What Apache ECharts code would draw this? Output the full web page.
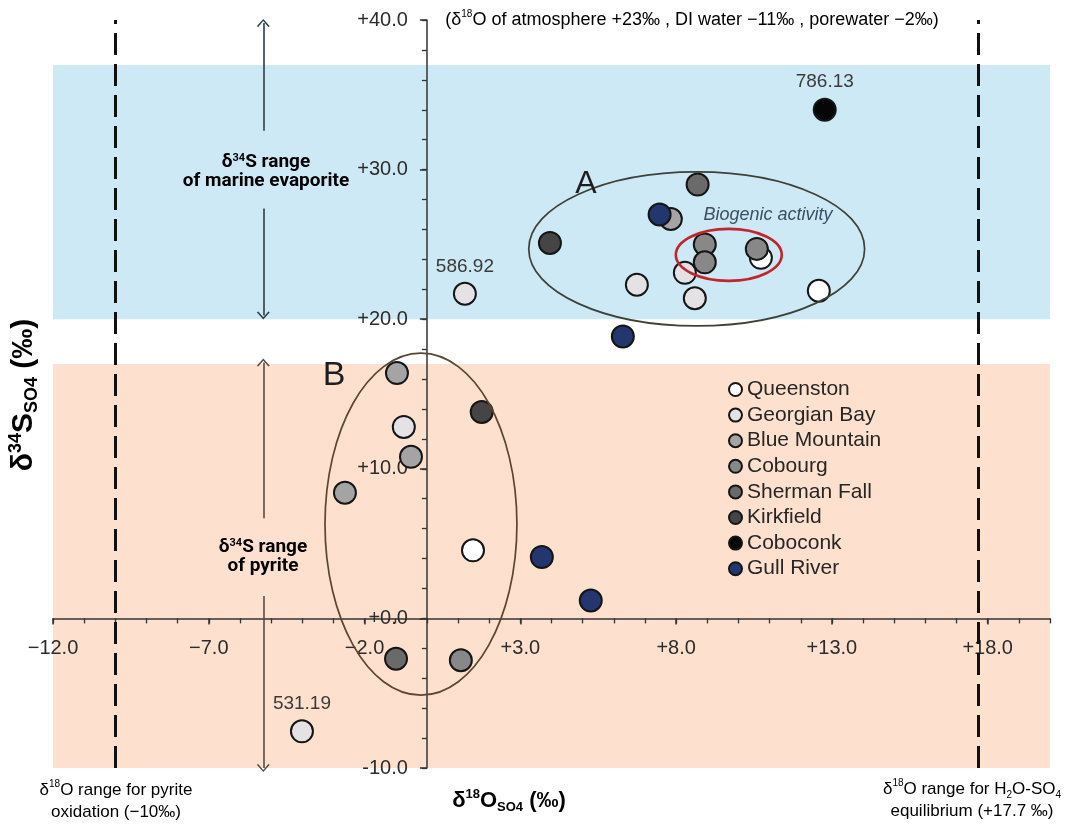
<!DOCTYPE html>
<html>
<head>
<meta charset="utf-8">
<script src="https://cdn.jsdelivr.net/npm/echarts@6/dist/echarts.min.js"></script>
<style>
  html, body { margin: 0; padding: 0; background: #fff; }
  #chart { width: 1068px; height: 825px; }
</style>
</head>
<body>
<div id="chart"></div>
<script>
// δ18O vs δ34S of dissolved sulfate, grouped by formation.
// Each point: [δ18O_SO4, δ34S_SO4] or [δ18O_SO4, δ34S_SO4, sample tag]
const queenston    = [[1.48, 4.55], [10.72, 24.1], [12.58, 21.9]];
const georgianBay  = [[1.22, 21.7, '586.92'], [-0.74, 12.8], [-4.01, -7.55, '531.19'], [8.28, 23.1], [6.74, 22.3], [8.6, 21.4]];
const blueMountain = [[-0.96, 16.4], [-0.51, 10.8], [-2.63, 8.4], [7.83, 26.7]];
const cobourg      = [[8.92, 25.0], [8.92, 23.8], [10.59, 24.7], [1.09, -2.8]];
const shermanFall  = [[8.69, 29.0], [-0.99, -2.7]];
const kirkfield    = [[3.95, 25.1], [1.76, 13.8]];
const coboconk     = [[12.77, 34.0, '786.13']];
const gullRiver    = [[7.47, 27.0], [6.29, 18.85], [3.69, 4.1], [5.26, 1.2]];

const formationNames = ['Queenston', 'Georgian Bay', 'Blue Mountain', 'Cobourg', 'Sherman Fall', 'Kirkfield', 'Coboconk', 'Gull River'];

// axis ticks
const xTicks = [-12, -7, -2, 3, 8, 13, 18];
const yTicks = [-10, 0, 10, 20, 30, 40];

// δ34S reference ranges
const evaporiteRange = [20, 37];
const pyriteRange = [-10, 17];
// δ18O reference values
const pyriteOxidationO = -10;
const equilibriumO = 17.7;

// grouping ellipses: [centre δ18O, centre δ34S, half-width, half-height]
const groupA = [8.66, 24.7, 5.39, 5.15];
const groupB = [-0.19, 6.3, 3.08, 11.43];
const biogenicZone = [9.69, 24.3, 1.70, 1.74];

// range arrows: [δ18O, start δ34S, end δ34S]
const evaporiteArrowTop = [-5.25, 39.8, 32.6];
const evaporiteArrowBottom = [-5.25, 27.4, 20.25];
const pyriteArrowTop = [-5.25, 17.1, 6.7];
const pyriteArrowBottom = [-5.25, 1.5, -10];

const chart = echarts.init(document.getElementById('chart'), null, { renderer: 'canvas' });

const FONT = "'Liberation Sans', Arial, sans-serif";
const AXIS_COLOR = '#333';
const chevron = 'path://M0,9 L6,0 L12,9 L10.7,9.9 L6,2.6 L1.3,9.9 Z';
const GRID = { left: 53, right: 18, top: 20, bottom: 57 };

const fills = ['#ffffff', '#e4e2e5', '#a4a4a4', '#888888', '#6a6a6a', '#454545', '#060606', '#23366e'];
const groups = [queenston, georgianBay, blueMountain, cobourg, shermanFall, kirkfield, coboconk, gullRiver];

function toItems(arr) {
  return arr.map(d => d[2]
    ? { value: [d[0], d[1]], label: { show: true, formatter: d[2] } }
    : [d[0], d[1]]);
}

const scatterSeries = groups.map((g, i) => ({
  name: formationNames[i],
  type: 'scatter',
  z: 3,
  symbol: 'circle',
  symbolSize: 22,
  data: toItems(g),
  itemStyle: { color: fills[i], borderColor: '#151515', borderWidth: 2, opacity: 1 },
  label: { show: false, position: 'top', distance: 6, fontSize: 19, color: '#3a3a3a', fontFamily: FONT },
  emphasis: { disabled: true }
}));

function arrowSeg(seg, color, startHead) {
  return [
    { coord: [seg[0], seg[1]], symbol: startHead ? chevron : 'none', lineStyle: { color, width: 1.6, type: 'solid' } },
    { coord: [seg[0], seg[2]], symbol: startHead ? 'none' : chevron }
  ];
}

const dashed = { type: [22, 9], width: 3, color: '#111' };

const helperSeries = {
  name: 'ranges',
  type: 'scatter',
  data: [],
  silent: true,
  markArea: {
    silent: true,
    z: 1,
    data: [
      [{ yAxis: evaporiteRange[1], itemStyle: { color: '#cde9f6' } }, { yAxis: evaporiteRange[0] }],
      [{ yAxis: pyriteRange[1], itemStyle: { color: '#fde1ce' } }, { yAxis: pyriteRange[0] }]
    ]
  },
  markLine: {
    silent: true,
    z: 3,
    symbol: 'none',
    symbolSize: [13, 8],
    label: { show: false },
    emphasis: { disabled: true },
    data: [
      { xAxis: pyriteOxidationO, lineStyle: dashed },
      { xAxis: equilibriumO, lineStyle: dashed },
      arrowSeg(evaporiteArrowTop, '#2e3d46', true),
      arrowSeg(evaporiteArrowBottom, '#2e3d46', false),
      arrowSeg(pyriteArrowTop, '#5b4c44', true),
      arrowSeg(pyriteArrowBottom, '#5b4c44', false)
    ]
  }
};

const ellipseStroke = ['#3e4136', '#5a4631', '#c3252d'];
const ellipseWidth = [1.7, 1.7, 2.6];
const ellipseSeries = {
  name: 'groups',
  type: 'custom',
  coordinateSystem: 'cartesian2d',
  z: 5,
  silent: true,
  clip: false,
  data: [groupA, groupB, biogenicZone],
  renderItem(params, api) {
    const c = api.coord([api.value(0), api.value(1)]);
    const s = api.size([api.value(2), api.value(3)]);
    return {
      type: 'ellipse',
      shape: { cx: c[0], cy: c[1], rx: s[0], ry: s[1] },
      style: { fill: 'none', stroke: ellipseStroke[params.dataIndex], lineWidth: ellipseWidth[params.dataIndex] }
    };
  }
};

const signed = (v, minus) => (v < 0 ? minus : '+') + Math.abs(v).toFixed(1);

const richNote = (size) => ({
  n: { fontFamily: FONT, fontSize: size, color: '#222', lineHeight: 22, verticalAlign: 'middle' },
  s: { fontFamily: FONT, fontSize: 10, color: '#222', lineHeight: 10, verticalAlign: 'top' },
  b: { fontFamily: FONT, fontSize: 10, color: '#222', lineHeight: 10, verticalAlign: 'bottom' }
});
const richBold = (color) => ({
  n: { fontFamily: "Roboto, 'Liberation Sans', sans-serif", fontWeight: 'bold', fontSize: 19, color, lineHeight: 19 },
  s: { fontFamily: "Roboto, 'Liberation Sans', sans-serif", fontWeight: 'bold', fontSize: 11, color, lineHeight: 11, verticalAlign: 'top' }
});
const richAxisName = (size, small) => ({
  n: { fontFamily: FONT, fontWeight: 'bold', fontSize: size, color: '#222', lineHeight: size + 4, verticalAlign: 'middle' },
  s: { fontFamily: FONT, fontWeight: 'bold', fontSize: small, color: '#222', lineHeight: small, verticalAlign: 'top' },
  b: { fontFamily: FONT, fontWeight: 'bold', fontSize: small, color: '#222', lineHeight: small, verticalAlign: 'bottom' }
});

const option = {
  backgroundColor: '#ffffff',
  animation: false,
  grid: Object.assign({ containLabel: false, outerBoundsMode: 'none' }, GRID),
  xAxis: [
    {
      type: 'value', min: -12, max: 20, position: 'bottom', z: 2,
      axisLine: { show: true, onZero: false, lineStyle: { color: AXIS_COLOR, width: 1.5 } },
      axisTick: { show: true, customValues: xTicks, length: 6, lineStyle: { color: AXIS_COLOR, width: 1.5 } },
      axisLabel: { customValues: xTicks, formatter: v => signed(v, '−'), fontSize: 20, color: '#2c2c2c', fontFamily: FONT, margin: 20 },
      splitLine: { show: false }
    },
    {
      // unit ticks on the upper side of the δ18O axis
      type: 'value', min: -12, max: 20, interval: 1, position: 'top', z: 2,
      axisLine: { show: false, onZero: false },
      axisTick: { show: true, inside: true, length: 5, lineStyle: { color: AXIS_COLOR, width: 1.3 } },
      axisLabel: { show: false },
      splitLine: { show: false }
    }
  ],
  yAxis: [
    {
      type: 'value', min: -10, max: 40, interval: 10, position: 'left', z: 2,
      axisLine: { show: true, onZero: false, lineStyle: { color: AXIS_COLOR, width: 1.5 } },
      axisTick: { show: true, customValues: yTicks, length: 7, lineStyle: { color: AXIS_COLOR, width: 1.5 } },
      axisLabel: { customValues: yTicks, formatter: v => signed(v, '-'), fontSize: 20, color: '#2c2c2c', fontFamily: FONT, margin: 19 },
      splitLine: { show: false }
    },
    {
      // 2‰ ticks on the right side of the δ34S axis
      type: 'value', min: -10, max: 40, interval: 2, position: 'right', z: 2,
      axisLine: { show: false, onZero: false },
      axisTick: { show: true, inside: true, length: 5, lineStyle: { color: AXIS_COLOR, width: 1.3 } },
      axisLabel: { show: false },
      splitLine: { show: false }
    }
  ],
  legend: {
    data: formationNames,
    orient: 'vertical',
    left: 723,
    top: 374,
    icon: 'circle',
    itemWidth: 13,
    itemHeight: 13,
    itemGap: 4.6,
    selectedMode: false,
    textStyle: { fontSize: 21, lineHeight: 21, color: '#262626', fontFamily: FONT }
  },
  graphic: [
    { type: 'text', x: 692, y: 20, z: 10, silent: true,
      style: { text: '{n|(δ}{s|18}{n|O of atmosphere +23‰ , DI water −11‰ , porewater −2‰)}', rich: richNote(18), align: 'center', verticalAlign: 'middle' } },
    { type: 'text', x: 116, y: 801, z: 10, silent: true,
      style: { text: '{n|δ}{s|18}{n|O range for pyrite}\n{n|oxidation (−10‰)}', rich: richNote(17), align: 'center', verticalAlign: 'middle' } },
    { type: 'text', x: 972, y: 800, z: 10, silent: true,
      style: { text: '{n|δ}{s|18}{n|O range for H}{b|2}{n|O-SO}{b|4}\n{n|equilibrium (+17.7 ‰)}', rich: richNote(17), align: 'center', verticalAlign: 'middle' } },
    { type: 'text', x: 266, y: 172, z: 10, silent: true,
      style: { text: '{n|δ}{s|34}{n|S range}\n{n|of marine evaporite}', rich: richBold('#2c3a42'), align: 'center', verticalAlign: 'middle' } },
    { type: 'text', x: 263, y: 557, z: 10, silent: true,
      style: { text: '{n|δ}{s|34}{n|S range}\n{n|of pyrite}', rich: richBold('#3b2f28'), align: 'center', verticalAlign: 'middle' } },
    { type: 'text', x: 586, y: 184, z: 10, silent: true,
      style: { text: 'A', font: "32px 'Liberation Sans', Arial, sans-serif", fill: '#1e1e1e', align: 'center', verticalAlign: 'middle' } },
    { type: 'text', x: 334, y: 376, z: 10, silent: true,
      style: { text: 'B', font: "34px 'Liberation Sans', Arial, sans-serif", fill: '#1e1e1e', align: 'center', verticalAlign: 'middle' } },
    { type: 'text', x: 768, y: 215, z: 10, silent: true,
      style: { text: 'Biogenic activity', font: "italic 18px 'Liberation Sans', Arial, sans-serif", fill: '#3d4e64', align: 'center', verticalAlign: 'middle' } },
    { type: 'text', x: 509, y: 801, z: 10, silent: true,
      style: { text: '{n|δ}{s|18}{n|O}{b|SO4}{n| (‰)}', rich: richAxisName(22, 13), align: 'center', verticalAlign: 'middle' } },
    { type: 'text', x: 24, y: 395, z: 10, rotation: Math.PI / 2, silent: true,
      style: { text: '{n|δ}{s|34}{n|S}{b|SO4}{n| (‰)}', rich: richAxisName(30, 18), align: 'center', verticalAlign: 'middle' } }
  ],
  series: [helperSeries].concat(scatterSeries, [ellipseSeries])
};

chart.setOption(option);

// Move both axis pairs so they cross at the data origin (0, 0).
const zeroX = chart.convertToPixel({ xAxisIndex: 0 }, 0);
const zeroY = chart.convertToPixel({ yAxisIndex: 0 }, 0);
const gridLeft = GRID.left;
const gridRight = chart.getWidth() - GRID.right;
const gridTop = GRID.top;
const gridBottom = chart.getHeight() - GRID.bottom;
chart.setOption({
  xAxis: [{ offset: zeroY - gridBottom }, { offset: gridTop - zeroY }],
  yAxis: [{ offset: gridLeft - zeroX }, { offset: zeroX - gridRight }]
});
</script>
</body>
</html>
